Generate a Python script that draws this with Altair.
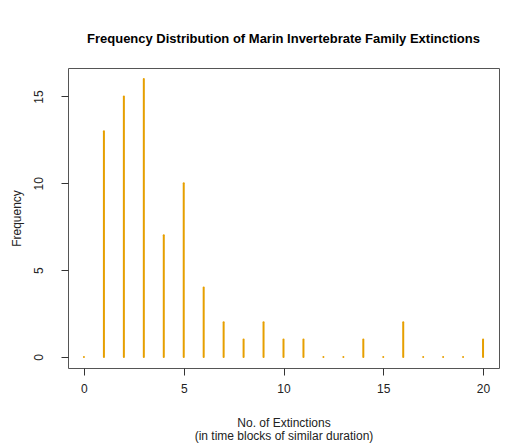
import altair as alt
import pandas as pd

extinctions = list(range(0, 21))
frequency = [0, 13, 15, 16, 7, 10, 4, 2, 1, 2, 1, 1, 0, 0, 1, 0, 2, 0, 0, 0, 1]
x_ticks = [0, 5, 10, 15, 20]
y_ticks = [0, 5, 10, 15]

df = pd.DataFrame({"n": extinctions, "freq": frequency, "base": [0] * len(extinctions)})

FONT = "Liberation Sans"

chart = (
    alt.Chart(df)
    .mark_rule(color="#E69F00", strokeWidth=2, strokeCap="round")
    .encode(
        x=alt.X(
            "n:Q",
            scale=alt.Scale(domain=[-0.8, 20.8], nice=False, zero=False),
            axis=alt.Axis(
                values=x_ticks,
                grid=False,
                domain=False,
                tickSize=7,
                tickColor="#333",
                labelPadding=8,
                labelFontSize=12,
                labelColor="#222",
                labelFont=FONT,
                title=["No. of Extinctions", "(in time blocks of similar duration)"],
                titleFont=FONT,
                titleFontSize=12,
                titleFontWeight="normal",
                titleColor="#222",
                titleLineHeight=13,
                titlePadding=23,
            ),
        ),
        y=alt.Y(
            "base:Q",
            scale=alt.Scale(domain=[-0.64, 16.64], nice=False, zero=False),
            axis=alt.Axis(
                values=y_ticks,
                grid=False,
                domain=False,
                tickSize=7,
                tickColor="#333",
                labelAngle=-90,
                labelAlign="center",
                labelBaseline="bottom",
                labelPadding=16,
                labelFontSize=12,
                labelColor="#222",
                labelFont=FONT,
                title="Frequency",
                titleFont=FONT,
                titleFontSize=12,
                titleFontWeight="normal",
                titleColor="#222",
                titlePadding=9,
            ),
        ),
        y2="freq:Q",
    )
    .properties(
        width=431,
        height=300,
        padding={"left": 68, "top": 68, "right": 27, "bottom": 76},
        autosize=alt.AutoSizeParams(type="none"),
        background="white",
        title=alt.TitleParams(
            "Frequency Distribution of Marin Invertebrate Family Extinctions",
            font=FONT,
            fontSize=13,
            fontWeight="bold",
            color="#000",
            anchor="middle",
            offset=22,
        ),
    )
    .configure_view(stroke="#555", strokeWidth=1)
)

chart.save("out.html", embed_options={"renderer": "svg", "actions": False})
